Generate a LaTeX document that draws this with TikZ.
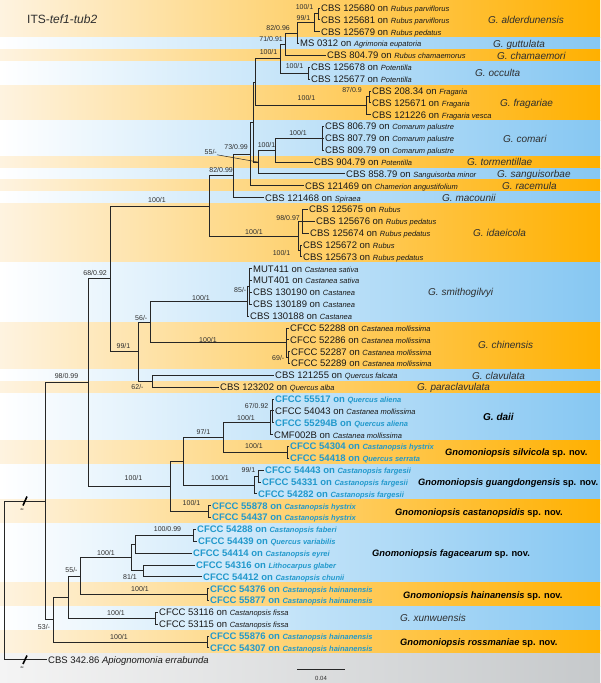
\documentclass[tikz,border=0pt]{standalone}
\usepackage{fontspec}
\setmainfont{Liberation Sans}
\usepackage{xcolor}
\usepackage{tikz}

\definecolor{orL}{HTML}{FEF3E0}
\definecolor{orM}{HTML}{FAD08A}
\definecolor{orR}{HTML}{FFB000}
\definecolor{blL}{HTML}{FFFFFF}
\definecolor{blM}{HTML}{DCEFFA}
\definecolor{blR}{HTML}{86C7F2}
\definecolor{gyL}{HTML}{F4F4F4}
\definecolor{gyM}{HTML}{E0E1E2}
\definecolor{gyR}{HTML}{C6C9CB}
\definecolor{newblue}{HTML}{2299CC}
\definecolor{inkgrey}{HTML}{2E2E2E}

\tikzstyle{orband} = [left color=orL, middle color=orM, right color=orR, draw=none]
\tikzstyle{blband} = [left color=blL, middle color=blM, right color=blR, draw=none]
\tikzstyle{gyband} = [left color=gyL, middle color=gyM, right color=gyR, draw=none]
\tikzstyle{leaf} = [anchor=west, inner xsep=1.5pt, inner ysep=0pt, text height=6.8pt, text depth=0pt, font=\fontsize{9.5}{10}\selectfont, text=black!90]
\tikzstyle{newleaf} = [leaf, font=\fontsize{9.5}{10}\selectfont\bfseries, text=newblue]
\tikzstyle{clade} = [anchor=west, inner sep=0pt, text height=7.2pt, text depth=0pt, font=\fontsize{10}{10}\selectfont\itshape, text=inkgrey]
\tikzstyle{newclade} = [anchor=west, inner sep=0pt, text height=7pt, text depth=0pt, font=\fontsize{9.3}{10}\selectfont\bfseries, text=black]
\tikzstyle{bs} = [anchor=base, inner sep=0pt, font=\fontsize{7}{7}\selectfont, text=inkgrey]
\tikzstyle{brline} = [line width=0.9pt, draw=black!85]

\newcommand{\hst}[1]{{\fontsize{7.5}{8}\selectfont\itshape #1}}

\begin{document}
\begin{tikzpicture}[x=1pt, y=-1pt]
\useasboundingbox (0,0) rectangle (600,683);

% coloured species bands
\foreach \t/\b/\s in {0/37.6/orband, 37.6/49.5/blband, 49.5/61.3/orband, 61.3/85.0/blband,
  85.0/120.6/orband, 120.6/156.1/blband, 156.1/168.0/orband, 168.0/179.8/blband,
  179.8/191.7/orband, 191.7/203.5/blband, 203.5/262.8/orband, 262.8/322.0/blband,
  322.0/369.4/orband, 369.4/381.3/blband, 381.3/393.1/orband, 393.1/440.5/blband,
  440.5/464.2/orband, 464.2/499.8/blband, 499.8/523.5/orband, 523.5/582.7/blband,
  582.7/606.4/orband, 606.4/630.1/blband, 630.1/653.8/orband, 653.8/683/gyband}
  \shade[\s] (0,\t) rectangle (600,\b);

\node[anchor=west, inner sep=0pt, font=\fontsize{12}{12}\selectfont, text=inkgrey] (title) at (27,19.5) {ITS-\textit{tef1}-\textit{tub2}};

% leaves
\node[leaf] (l1) at (319.5,8.00) {CBS 125680 on \hst{Rubus parviflorus}};
\node[leaf] (l2) at (319.5,19.85) {CBS 125681 on \hst{Rubus parviflorus}};
\node[leaf] (l3) at (319.5,31.70) {CBS 125679 on \hst{Rubus pedatus}};
\node[leaf] (l4) at (298.5,43.55) {MS 0312 on \hst{Agrimonia eupatoria}};
\node[leaf] (l5) at (325.5,55.40) {CBS 804.79 on \hst{Rubus chamaemorus}};
\node[leaf] (l6) at (309.5,67.25) {CBS 125678 on \hst{Potentilla}};
\node[leaf] (l7) at (309.5,79.10) {CBS 125677 on \hst{Potentilla}};
\node[leaf] (l8) at (370.5,90.95) {CBS 208.34 on \hst{Fragaria}};
\node[leaf] (l9) at (370.5,102.80) {CBS 125671 on \hst{Fragaria}};
\node[leaf] (l10) at (370.5,114.65) {CBS 121226 on \hst{Fragaria vesca}};
\node[leaf] (l11) at (323.5,126.50) {CBS 806.79 on \hst{Comarum palustre}};
\node[leaf] (l12) at (323.5,138.35) {CBS 807.79 on \hst{Comarum palustre}};
\node[leaf] (l13) at (323.5,150.20) {CBS 809.79 on \hst{Comarum palustre}};
\node[leaf] (l14) at (312.5,162.05) {CBS 904.79 on \hst{Potentilla}};
\node[leaf] (l15) at (344.5,173.90) {CBS 858.79 on \hst{Sanguisorba minor}};
\node[leaf] (l16) at (303.5,185.75) {CBS 121469 on \hst{Chamerion angustifolium}};
\node[leaf] (l17) at (263.5,197.60) {CBS 121468 on \hst{Spiraea}};
\node[leaf] (l18) at (307.5,209.45) {CBS 125675 on \hst{Rubus}};
\node[leaf] (l19) at (314.5,221.30) {CBS 125676 on \hst{Rubus pedatus}};
\node[leaf] (l20) at (308.5,233.15) {CBS 125674 on \hst{Rubus pedatus}};
\node[leaf] (l21) at (301.5,245.00) {CBS 125672 on \hst{Rubus}};
\node[leaf] (l22) at (301.5,256.85) {CBS 125673 on \hst{Rubus pedatus}};
\node[leaf] (l23) at (251.5,268.70) {MUT411 on \hst{Castanea sativa}};
\node[leaf] (l24) at (251.5,280.55) {MUT401 on \hst{Castanea sativa}};
\node[leaf] (l25) at (251.5,292.40) {CBS 130190 on \hst{Castanea}};
\node[leaf] (l26) at (251.5,304.25) {CBS 130189 on \hst{Castanea}};
\node[leaf] (l27) at (248.5,316.10) {CBS 130188 on \hst{Castanea}};
\node[leaf] (l28) at (288.5,327.95) {CFCC 52288 on \hst{Castanea mollissima}};
\node[leaf] (l29) at (288.5,339.80) {CFCC 52286 on \hst{Castanea mollissima}};
\node[leaf] (l30) at (289.5,351.65) {CFCC 52287 on \hst{Castanea mollissima}};
\node[leaf] (l31) at (289.5,363.50) {CFCC 52289 on \hst{Castanea mollissima}};
\node[leaf] (l32) at (273.5,375.35) {CBS 121255 on \hst{Quercus falcata}};
\node[leaf] (l33) at (218.5,387.20) {CBS 123202 on \hst{Quercus alba}};
\node[newleaf] (l34) at (273.5,399.05) {CFCC 55517 on \hst{Quercus aliena}};
\node[leaf] (l35) at (273.5,410.90) {CFCC 54043 on \hst{Castanea mollissima}};
\node[newleaf] (l36) at (273.5,422.75) {CFCC 55294B on \hst{Quercus aliena}};
\node[leaf] (l37) at (272.5,434.60) {CMF002B on \hst{Castanea mollissima}};
\node[newleaf] (l38) at (288.5,446.45) {CFCC 54304 on \hst{Castanopsis hystrix}};
\node[newleaf] (l39) at (288.5,458.30) {CFCC 54418 on \hst{Quercus serrata}};
\node[newleaf] (l40) at (263.5,470.15) {CFCC 54443 on \hst{Castanopsis fargesii}};
\node[newleaf] (l41) at (260.5,482.00) {CFCC 54331 on \hst{Castanopsis fargesii}};
\node[newleaf] (l42) at (256.5,493.85) {CFCC 54282 on \hst{Castanopsis fargesii}};
\node[newleaf] (l43) at (210.5,505.70) {CFCC 55878 on \hst{Castanopsis hystrix}};
\node[newleaf] (l44) at (210.5,517.55) {CFCC 54437 on \hst{Castanopsis hystrix}};
\node[newleaf] (l45) at (195.5,529.40) {CFCC 54288 on \hst{Castanopsis faberi}};
\node[newleaf] (l46) at (196.5,541.25) {CFCC 54439 on \hst{Quercus variabilis}};
\node[newleaf] (l47) at (191.5,553.10) {CFCC 54414 on \hst{Castanopsis eyrei}};
\node[newleaf] (l48) at (194.5,564.95) {CFCC 54316 on \hst{Lithocarpus glaber}};
\node[newleaf] (l49) at (201.5,576.80) {CFCC 54412 on \hst{Castanopsis chunii}};
\node[newleaf] (l50) at (208.5,588.65) {CFCC 54376 on \hst{Castanopsis hainanensis}};
\node[newleaf] (l51) at (208.5,600.50) {CFCC 55877 on \hst{Castanopsis hainanensis}};
\node[leaf] (l52) at (157.5,612.35) {CFCC 53116 on \hst{Castanopsis fissa}};
\node[leaf] (l53) at (157.5,624.20) {CFCC 53115 on \hst{Castanopsis fissa}};
\node[newleaf] (l54) at (208.5,636.05) {CFCC 55876 on \hst{Castanopsis hainanensis}};
\node[newleaf] (l55) at (208.5,647.90) {CFCC 54307 on \hst{Castanopsis hainanensis}};
\node[leaf] (l56) at (46.5,659.75) {CBS 342.86 \textit{Apiognomonia errabunda}};

% internal nodes
\coordinate (P) at (318,13.93);
\coordinate (Q) at (314,22.81);
\coordinate (R) at (297,33.18);
\coordinate (S) at (285,44.29);
\coordinate (O) at (308,73.18);
\coordinate (T) at (280,58.73);
\coordinate (F1) at (369,96.88);
\coordinate (F0) at (366,105.76);
\coordinate (U) at (255,82.25);
\coordinate (K0) at (322,138.35);
\coordinate (C1) at (275,150.20);
\coordinate (S1) at (258,162.05);
\coordinate (V) at (253,122.15);
\coordinate (N250) at (250,153.95);
\coordinate (N233) at (233,175.78);
\coordinate (I1) at (302,221.30);
\coordinate (I2) at (300,250.93);
\coordinate (I0) at (298,236.11);
\coordinate (N209) at (209,205.95);
\coordinate (G1) at (249,286.48);
\coordinate (G0) at (247,301.29);
\coordinate (Cc1) at (288,357.58);
\coordinate (C0) at (286,342.76);
\coordinate (N150) at (150,322.03);
\coordinate (N152) at (152,381.28);
\coordinate (N138) at (138,351.65);
\coordinate (N110) at (110,278.80);
\coordinate (D1) at (272,410.90);
\coordinate (D0) at (270,422.75);
\coordinate (SV) at (287,452.38);
\coordinate (D2) at (223,437.56);
\coordinate (G4) at (258,476.08);
\coordinate (G3) at (254,484.96);
\coordinate (N183) at (183,461.26);
\coordinate (CS) at (208,511.63);
\coordinate (N170) at (170,486.44);
\coordinate (N88) at (88,382.62);
\coordinate (N193) at (193,535.33);
\coordinate (N135) at (135,544.21);
\coordinate (N143) at (143,570.88);
\coordinate (N131) at (131,557.54);
\coordinate (H) at (207,594.58);
\coordinate (N80) at (80,576.06);
\coordinate (X) at (155,618.28);
\coordinate (N68) at (68,597.17);
\coordinate (Rm) at (207,641.98);
\coordinate (N53) at (53,619.57);
\coordinate (N45) at (45,501.10);
\coordinate (N4) at (4,580.42);

% branches, upper clade
\draw[brline] (P) |- (l1.west) (P) |- (l2.west);
\draw[brline] (Q) |- (P) (Q) |- (l3.west);
\draw[brline] (R) |- (Q) (R) |- (l4.west);
\draw[brline] (S) |- (R) (S) |- (l5.west);
\draw[brline] (O) |- (l6.west) (O) |- (l7.west);
\draw[brline] (T) |- (S) (T) |- (O);
\draw[brline] (F1) |- (l8.west) (F1) |- (l9.west);
\draw[brline] (F0) |- (F1) (F0) |- (l10.west);
\draw[brline] (U) |- (T) (U) |- (F0);
\draw[brline] (K0) |- (l11.west) (K0) |- (l12.west) (K0) |- (l13.west);
\draw[brline] (C1) |- (K0) (C1) |- (l14.west);
\draw[brline] (S1) |- (C1) (S1) |- (l15.west);
\draw[brline] (V) |- (U) (V) |- (S1);
\draw[brline] (N250) |- (V) (N250) |- (l16.west);
\draw[brline] (N233) |- (N250) (N233) |- (l17.west);
\draw[brline] (I1) |- (l18.west) (I1) |- (l19.west) (I1) |- (l20.west);
\draw[brline] (I2) |- (l21.west) (I2) |- (l22.west);
\draw[brline] (I0) |- (I1) (I0) |- (I2);
\draw[brline] (N209) |- (N233) (N209) |- (I0);

% branches, Castanea group
\draw[brline] (G1) |- (l23.west) (G1) |- (l24.west) (G1) |- (l25.west) (G1) |- (l26.west);
\draw[brline] (G0) |- (G1) (G0) |- (l27.west);
\draw[brline] (Cc1) |- (l30.west) (Cc1) |- (l31.west);
\draw[brline] (C0) |- (l28.west) (C0) |- (l29.west) (C0) |- (Cc1);
\draw[brline] (N150) |- (G0) (N150) |- (C0);
\draw[brline] (N152) |- (l32.west) (N152) |- (l33.west);
\draw[brline] (N138) |- (N150) (N138) |- (N152);
\draw[brline] (N110) |- (N209) (N110) |- (N138);

% branches, new species
\draw[brline] (D1) |- (l34.west) (D1) |- (l35.west) (D1) |- (l36.west);
\draw[brline] (D0) |- (D1) (D0) |- (l37.west);
\draw[brline] (SV) |- (l38.west) (SV) |- (l39.west);
\draw[brline] (D2) |- (D0) (D2) |- (SV);
\draw[brline] (G4) |- (l40.west) (G4) |- (l41.west);
\draw[brline] (G3) |- (G4) (G3) |- (l42.west);
\draw[brline] (N183) |- (D2) (N183) |- (G3);
\draw[brline] (CS) |- (l43.west) (CS) |- (l44.west);
\draw[brline] (N170) |- (N183) (N170) |- (CS);
\draw[brline] (N88) |- (N110) (N88) |- (N170);
\draw[brline] (N193) |- (l45.west) (N193) |- (l46.west);
\draw[brline] (N135) |- (N193) (N135) |- (l47.west);
\draw[brline] (N143) |- (l48.west) (N143) |- (l49.west);
\draw[brline] (N131) |- (N135) (N131) |- (N143);
\draw[brline] (H) |- (l50.west) (H) |- (l51.west);
\draw[brline] (N80) |- (N131) (N80) |- (H);
\draw[brline] (X) |- (l52.west) (X) |- (l53.west);
\draw[brline] (N68) |- (N80) (N68) |- (X);
\draw[brline] (Rm) |- (l54.west) (Rm) |- (l55.west);
\draw[brline] (N53) |- (N68) (N53) |- (Rm);
\draw[brline] (N45) |- (N88) (N45) |- (N53);
\draw[brline] (N4) |- (N45) (N4) |- (l56.west);

% support values
\node[bs, anchor=base east] (bP) at (313.5,9.5) {100/1};
\node[bs, anchor=base east] (bQ) at (310.5,20.5) {99/1};
\node[bs, anchor=base east] (bR) at (290,30) {82/0.96};
\node[bs, anchor=base east] (bS) at (283,41.5) {71/0.91};
\node[bs, anchor=base east] (bT) at (277.5,54.5) {100/1};
\node[bs, anchor=base east] (bO) at (303.5,68) {100/1};
\node[bs] (bF0) at (306.5,100.5) {100/1};
\node[bs, anchor=base east] (bF1) at (362,92.5) {87/0.9};
\node[bs, anchor=base east] (bK0) at (307,135.5) {100/1};
\node[bs, anchor=base east] (bC1) at (275.5,147.5) {100/1};
\node[bs, anchor=base east] (bS1) at (217,154.5) {55/-};
\node[bs, anchor=base east] (bN250) at (248,149.5) {73/0.99};
\node[bs, anchor=base east] (bN233) at (233,172.5) {82/0.99};
\node[bs] (bN209) at (157,202.5) {100/1};
\node[bs] (bI0) at (254,234.5) {100/1};
\node[bs, anchor=base east] (bI1) at (300,220) {98/0.97};
\node[bs, anchor=base east] (bI2) at (290.5,255.5) {100/1};
\node[bs, anchor=base east] (bN110) at (107,275.5) {68/0.92};
\node[bs] (bG0) at (201,300.5) {100/1};
\node[bs, anchor=base east] (bG1) at (246.5,292.5) {85/-};
\node[bs, anchor=base east] (bN150) at (147.5,320.5) {56/-};
\node[bs] (bC0) at (208,342.5) {100/1};
\node[bs, anchor=base east] (bCc1) at (284.5,360.5) {69/-};
\node[bs] (bN138) at (123.5,348.5) {99/1};
\node[bs] (bN152) at (137.5,389.5) {62/-};
\node[bs] (bN88) at (66.5,378.5) {98/0.99};
\node[bs, anchor=base east] (bD1) at (268.5,408.5) {67/0.92};
\node[bs] (bD0) at (246,420.5) {100/1};
\node[bs] (bD2) at (203.5,434.5) {97/1};
\node[bs] (bSV) at (254,448.5) {100/1};
\node[bs, anchor=base east] (bG4) at (255.5,472.5) {99/1};
\node[bs] (bG3) at (220,480.5) {100/1};
\node[bs] (bCS) at (191.5,505.5) {100/1};
\node[bs] (bN170) at (133.5,480.5) {100/1};
\node[bs] (bN193) at (167.5,531.5) {100/0.99};
\node[bs] (bN143) at (130,579.5) {81/1};
\node[bs] (bN131) at (106,555.5) {100/1};
\node[bs] (bN80) at (71.5,572.5) {55/-};
\node[bs] (bH) at (140,591.5) {100/1};
\node[bs] (bX) at (116,615.5) {100/1};
\node[bs] (bN53) at (44,629.5) {53/-};
\node[bs] (bRm) at (119,639.5) {100/1};
\draw[line width=0.5pt, black!85] (bS1.south east) -- (S1);

% species names
\node[clade] (cAld) at (488,20) {G. alderdunensis};
\node[clade] (cGut) at (493,43.5) {G. guttulata};
\node[clade] (cCha) at (497,55.4) {G. chamaemori};
\node[clade] (cOcc) at (475,73) {G. occulta};
\node[clade] (cFra) at (500,103) {G. fragariae};
\node[clade] (cCom) at (503,138.4) {G. comari};
\node[clade] (cTor) at (467,162) {G. tormentillae};
\node[clade] (cSan) at (497,174) {G. sanguisorbae};
\node[clade] (cRac) at (502,186) {G. racemula};
\node[clade] (cMac) at (442,198) {G. macounii};
\node[clade] (cIda) at (473,233) {G. idaeicola};
\node[clade] (cSmi) at (428,292) {G. smithogilvyi};
\node[clade] (cChi) at (478,345) {G. chinensis};
\node[clade] (cCla) at (472,375.4) {G. clavulata};
\node[clade] (cPar) at (417,387.2) {G. paraclavulata};
\node[clade, font=\fontsize{10}{10}\selectfont\bfseries\itshape, text=black] (cDai) at (483,417) {G. daii};
\node[newclade] (cSil) at (445,452.4) {\textit{Gnomoniopsis silvicola} sp. nov.};
\node[newclade] (cGua) at (418,482) {\textit{Gnomoniopsis guangdongensis} sp. nov.};
\node[newclade] (cCas) at (395,511.6) {\textit{Gnomoniopsis castanopsidis} sp. nov.};
\node[newclade] (cFag) at (372,553) {\textit{Gnomoniopsis fagacearum} sp. nov.};
\node[newclade] (cHai) at (403,594.6) {\textit{Gnomoniopsis hainanensis} sp. nov.};
\node[clade] (cXun) at (400,618.3) {G. xunwuensis};
\node[newclade] (cRos) at (400,642) {\textit{Gnomoniopsis rossmaniae} sp. nov.};

% branch breaks and scale bar
\draw[line width=1.6pt] (23,505.5) -- (27,496.5);
\draw[line width=1.6pt] (23,664) -- (27,655.5);
\node[font=\fontsize{3}{3}\selectfont, inner sep=0pt] (brk1) at (22,509) {4x};
\node[font=\fontsize{3}{3}\selectfont, inner sep=0pt] (brk2) at (22,667.5) {4x};
\coordinate (sb1) at (297,669);
\coordinate (sb2) at (345,669);
\draw[line width=0.9pt, black!85] (sb1) -- (sb2);
\node[bs, font=\fontsize{6}{6}\selectfont] (sblab) at (321,680) {0.04};

\end{tikzpicture}
\end{document}
